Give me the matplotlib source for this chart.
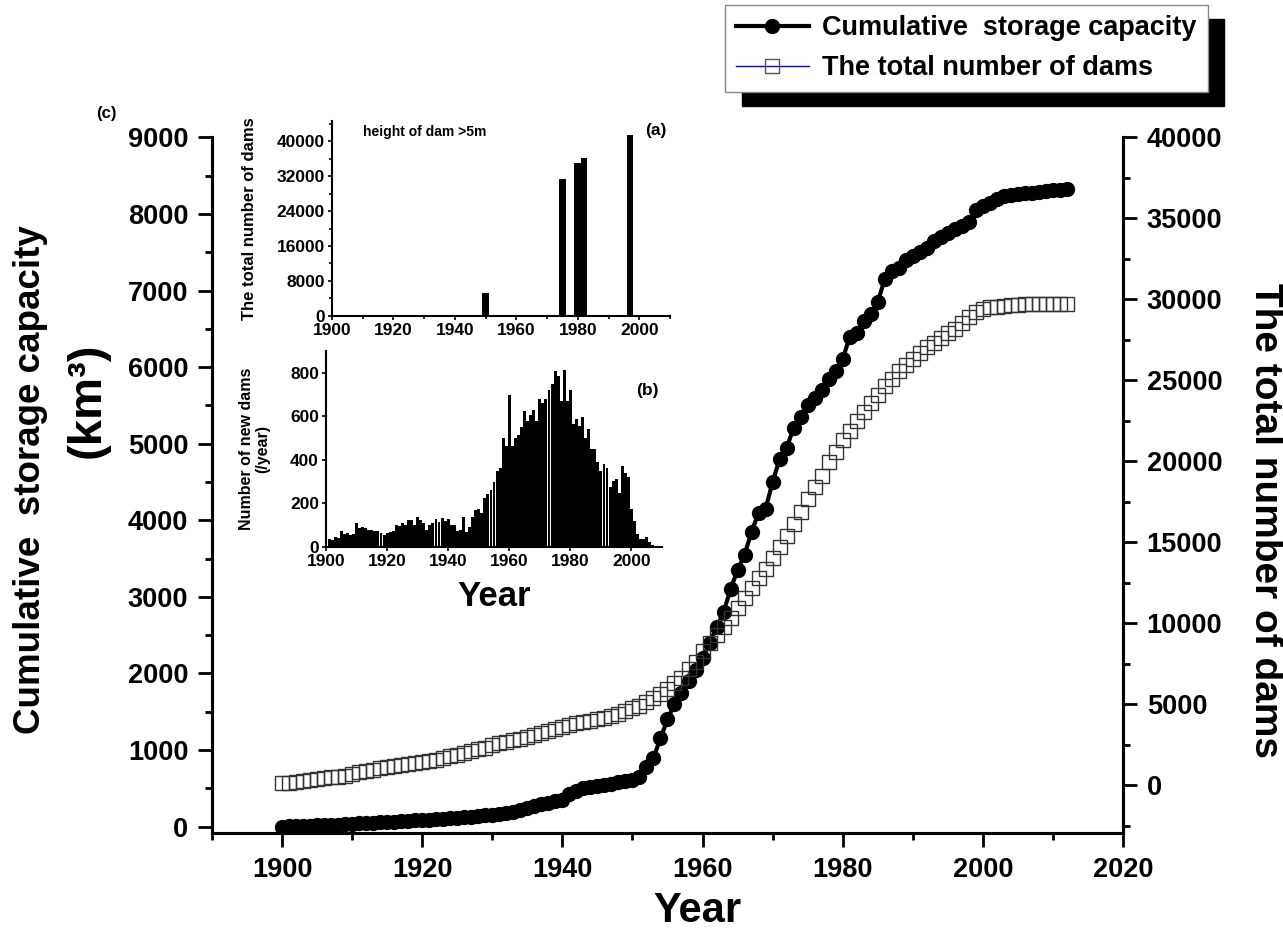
import numpy as np
import matplotlib
matplotlib.use("Agg")
import matplotlib.pyplot as plt
from matplotlib.lines import Line2D
from matplotlib.ticker import MultipleLocator

plt.rcParams['font.family'] = ['Liberation Sans', 'DejaVu Sans']
plt.rcParams['font.weight'] = 'bold'
plt.rcParams['axes.labelweight'] = 'bold'

# main panel (c): yearly series 1900-2012
years = list(range(1900, 2013))
storage = [0, 3, 6, 9, 12, 15, 18, 22, 26, 30,
           35, 40, 45, 50, 55, 60, 65, 70, 75, 80,
           85, 90, 95, 100, 108, 115, 122, 130, 138, 146,
           155, 165, 180, 195, 215, 245, 270, 290, 310, 330,
           350, 420, 470, 500, 515, 530, 545, 560, 575, 590,
           610, 650, 780, 900, 1150, 1400, 1600, 1750, 1900, 2050,
           2200, 2400, 2600, 2800, 3100, 3350, 3550, 3850, 4100, 4150,
           4500, 4800, 4950, 5200, 5350, 5500, 5600, 5700, 5850, 5950,
           6100, 6400, 6450, 6600, 6700, 6850, 7150, 7250, 7300, 7400,
           7450, 7500, 7550, 7650, 7700, 7750, 7800, 7850, 7900, 8050,
           8100, 8150, 8200, 8230, 8250, 8260, 8270, 8280, 8290, 8300,
           8310, 8320, 8330]
dams = [100, 150, 190, 240, 290, 350, 410, 470, 530, 590,
        690, 780, 870, 950, 1030, 1100, 1180, 1250, 1310, 1370,
        1440, 1510, 1580, 1680, 1770, 1880, 1980, 2100, 2220, 2320,
        2460, 2580, 2690, 2770, 2870, 2980, 3110, 3220, 3360, 3480,
        3610, 3710, 3810, 3880, 3960, 4100, 4170, 4260, 4400, 4570,
        4740, 4900, 5120, 5370, 5630, 5930, 6280, 6640, 7140, 7610,
        8310, 8770, 9270, 9790, 10340, 10960, 11540, 12150, 12780, 13360,
        14040, 14700, 15380, 16100, 16850, 17660, 18440, 19110, 19930, 20600,
        21320, 21880, 22470, 23030, 23620, 24120, 24660, 25110, 25560, 25950,
        26300, 26680, 27040, 27320, 27620, 27930, 28180, 28550, 28890, 29210,
        29380, 29500, 29560, 29600, 29640, 29680, 29700, 29710, 29710, 29710,
        29710, 29710, 29710]

# inset (a): total number of dams (height > 5 m) by survey year
survey_years = [1950, 1975, 1980, 1982, 1997]
survey_totals = [5300, 31300, 35000, 36100, 41300]

# inset (b): new dams per year 1900-2007
new_years = list(range(1900, 2008))
new_dams = [60, 38, 30, 45, 40, 72, 60, 62, 57, 58,
            110, 88, 92, 88, 76, 80, 72, 74, 64, 55,
            65, 70, 72, 100, 95, 108, 100, 122, 122, 100,
            138, 122, 110, 80, 100, 110, 130, 115, 135, 120,
            130, 100, 100, 73, 80, 140, 68, 90, 138, 168,
            175, 155, 225, 245, 260, 300, 350, 365, 500, 465,
            700, 465, 500, 515, 550, 625, 580, 605, 630, 580,
            680, 660, 680, 720, 750, 810, 785, 670, 815, 670,
            720, 565, 590, 555, 595, 500, 540, 450, 450, 390,
            350, 380, 365, 275, 305, 310, 250, 370, 340, 320,
            175, 120, 58, 38, 38, 45, 22, 8]

fig = plt.figure(figsize=(12.83, 9.32), dpi=100)
ax = fig.add_axes([0.1652, 0.1062, 0.7101, 0.7463])
ax2 = ax.twinx()

l1, = ax.plot(years, storage, color='black', lw=3, marker='o', ms=10,
              label='Cumulative  storage capacity', zorder=3)
ax2.plot(years, dams, ls='none', marker='s', ms=9.5,
         mfc='none', mec='#333333', mew=1.0)
l2 = Line2D([], [], color='blue', lw=1.0, marker='s', ms=9.5, mfc='none',
            mec='#555555', mew=1.0, label='The total number of dams')

ax.set_xlim(1890, 2020)
ax.set_ylim(-85, 9000)
ax2.set_ylim(-2960, 40000)
ax.xaxis.set_major_locator(MultipleLocator(20))
ax.xaxis.set_minor_locator(MultipleLocator(10))
ax.yaxis.set_major_locator(MultipleLocator(1000))
ax.yaxis.set_minor_locator(MultipleLocator(500))
ax2.yaxis.set_major_locator(MultipleLocator(5000))
ax2.yaxis.set_minor_locator(MultipleLocator(2500))

for a in (ax, ax2):
    a.spines['top'].set_visible(False)
    for s in a.spines.values():
        s.set_linewidth(2.2)
    a.tick_params(which='major', length=10, width=2.0, labelsize=19.5,
                  direction='out', pad=7)
    a.tick_params(which='minor', length=5, width=2.0, direction='out')

ax.set_xlabel('Year', fontsize=30, va='top')
ax.xaxis.set_label_coords(0.533, -0.084)
fig.text(0.024, 0.485, 'Cumulative  storage capacity', rotation=90, fontsize=26.5,
         ha='center', va='center')
fig.text(0.068, 0.571, '(km³)', rotation=90, fontsize=34, ha='center', va='center')
fig.text(0.986, 0.441, 'The total number of dams', rotation=270, fontsize=28,
         ha='center', va='center')
fig.text(0.083, 0.878, '(c)', fontsize=12, ha='center', va='center')

fig.legend(handles=[l1, l2], loc='upper left', bbox_to_anchor=(0.565, 0.995),
           fontsize=19.5, handlelength=2.7, frameon=True, fancybox=False,
           edgecolor='#888888', framealpha=1, borderaxespad=0, borderpad=0.4,
           labelspacing=0.5, handletextpad=0.5,
           shadow={'ox': 12, 'oy': -10, 'color': 'black', 'alpha': 1})

# inset (a)
axa = fig.add_axes([0.2588, 0.661, 0.2634, 0.2092])
axa.bar(survey_years, survey_totals, width=2.2, color='black')
axa.set_xlim(1900, 2010)
axa.set_ylim(0, 44600)
axa.xaxis.set_major_locator(MultipleLocator(20))
axa.xaxis.set_minor_locator(MultipleLocator(10))
axa.yaxis.set_major_locator(MultipleLocator(8000))
axa.yaxis.set_minor_locator(MultipleLocator(4000))
axa.set_ylabel('The total number of dams', fontsize=12, labelpad=14)
axa.text(1910, 42000, 'height of dam >5m', fontsize=10, va='center')
axa.text(2009, 42500, '(a)', fontsize=12.5, ha='right', va='center')

# inset (b)
axb = fig.add_axes([0.2541, 0.4131, 0.2619, 0.2103])
axb.bar(new_years, new_dams, width=0.95, color='black', linewidth=0)
axb.set_xlim(1900, 2010)
axb.set_ylim(0, 900)
axb.xaxis.set_major_locator(MultipleLocator(20))
axb.yaxis.set_major_locator(MultipleLocator(200))
axb.set_xlabel('Year', fontsize=25, labelpad=8)
axb.set_ylabel('Number of new dams\n(/year)', fontsize=11.5, labelpad=14, linespacing=1.1)
axb.text(2009, 720, '(b)', fontsize=12.5, ha='right', va='center')

for a in (axa, axb):
    a.set_facecolor('none')
    a.spines['top'].set_visible(False)
    a.spines['right'].set_visible(False)
    for s in ('left', 'bottom'):
        a.spines[s].set_linewidth(1.5)
    a.tick_params(which='major', length=3, width=1.2, labelsize=12.5, pad=2)
    a.tick_params(which='minor', length=2, width=1.2)

fig.savefig('out.png', dpi=100)
